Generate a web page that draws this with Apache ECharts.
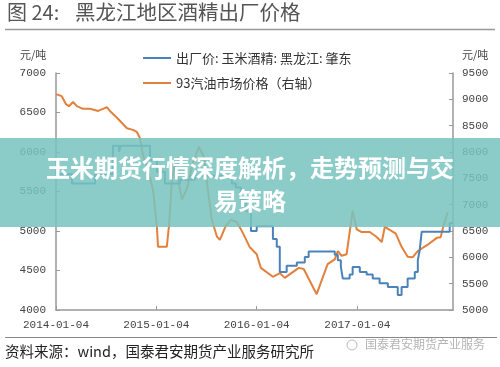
<!DOCTYPE html>
<html><head><meta charset="utf-8">
<script src="https://cdn.jsdelivr.net/npm/echarts@6/dist/echarts.min.js"></script>
<style>html,body{margin:0;padding:0;background:#fff}#c{width:500px;height:367px}</style>
</head><body><div id="c"></div>
<script>
// ---- data ----
const blueName = '出厂价: 玉米酒精: 黑龙江: 肇东';
const orangeName = '93汽油市场价格（右轴）';
const blueDates = ['2014-01-04','2014-03-03','2014-05-26','2014-07-30','2014-08-21','2014-08-28','2014-12-12','2015-01-06','2015-02-04','2015-03-31','2015-05-24','2015-10-06','2015-10-20','2015-11-07','2015-11-25','2015-12-14','2016-01-04','2016-03-03','2016-03-17','2016-03-28','2016-04-22','2016-05-29','2016-06-27','2016-07-11','2016-10-14','2016-10-25','2016-11-05','2016-11-12','2016-12-07','2016-12-18','2017-01-13','2017-02-07','2017-03-01','2017-03-26','2017-04-25','2017-05-31','2017-06-14','2017-07-06','2017-08-01','2017-08-12','2017-08-19','2017-08-26','2017-12-06','2017-12-18'];
const blueValues = [5720,5600,5720,6080,6000,6080,5900,5750,5600,5650,5700,5600,5550,5400,5250,5000,5060,4900,4800,4480,4560,4600,4670,4740,4700,4630,4550,4400,4450,4545,4480,4450,4400,4340,4290,4190,4290,4400,4480,4630,4760,4990,5100,5100];
const orangeDates = ['2014-01-04','2014-01-25','2014-02-09','2014-02-20','2014-03-07','2014-03-21','2014-04-12','2014-05-08','2014-06-06','2014-06-24','2014-07-08','2014-07-19','2014-08-14','2014-09-01','2014-09-19','2014-10-11','2014-10-25','2014-11-05','2014-11-16','2014-12-12','2014-12-23','2015-01-06','2015-01-10','2015-02-11','2015-02-19','2015-03-02','2015-03-12','2015-03-23','2015-04-07','2015-04-25','2015-05-17','2015-06-08','2015-06-26','2015-07-10','2015-07-25','2015-08-12','2015-08-23','2015-09-14','2015-10-02','2015-10-24','2015-11-15','2015-12-10','2016-01-04','2016-01-19','2016-03-03','2016-03-28','2016-04-15','2016-06-05','2016-06-23','2016-08-09','2016-09-18','2016-10-14','2016-10-25','2016-11-08','2016-11-26','2016-12-18','2017-01-02','2017-01-20','2017-02-18','2017-03-12','2017-04-03','2017-04-14','2017-05-02','2017-05-24','2017-06-14','2017-07-06','2017-07-24','2017-08-12','2017-09-17','2017-10-20','2017-11-03','2017-11-14','2017-11-29'];
const orangeValues = [9100,9060,8910,8870,8950,8870,8820,8820,8780,8820,8850,8780,8650,8550,8450,8420,8380,8270,7950,7500,7280,6580,6200,6200,6600,7500,7750,7500,7100,7300,7800,8100,7900,7300,6710,6400,6330,6600,6710,6670,6460,6190,6060,5800,5630,5700,5610,5800,5780,5300,5870,5960,6120,6030,6060,6880,6530,6480,6480,6400,6290,6580,6520,6450,6200,6010,6000,6120,6240,6370,6380,6610,6860];
const xTickLabels = ['2014-01-04','2015-01-04','2016-01-04','2017-01-04'];
const xRange = ['2014-01-04','2017-12-18'];
const leftAxis = {min: 4000, max: 7000, interval: 500};
const rightAxis = {min: 5000, max: 9500, interval: 500};

// ---- helpers ----
function ts(s){ const p = s.split('-').map(Number); return Date.UTC(p[0], p[1]-1, p[2]); }
function pad(n){ return (n<10?'0':'') + n; }
function fmt(v){ const d = new Date(Math.round(v)); return d.getUTCFullYear() + '-' + pad(d.getUTCMonth()+1) + '-' + pad(d.getUTCDate()); }
const blueData = blueDates.map((d,i)=>[ts(d), blueValues[i]]);
const orangeData = orangeDates.map((d,i)=>[ts(d), orangeValues[i]]);
const xTicks = xTickLabels.map(ts);

const chart = echarts.init(document.getElementById('c'), null, {renderer:'canvas'});
const axisFont = 'Liberation Mono';
const cjk = 'Noto Sans CJK SC';
const plain = v => String(v);
chart.setOption({
  animation: false,
  backgroundColor: '#fff',
  grid: {left: 56, right: 47, top: 73, bottom: 57},
  legend: {
    orient: 'vertical', left: 138, top: 46, itemGap: 11, itemWidth: 28, itemHeight: 2, icon: 'rect',
    textStyle: {fontSize: 13, lineHeight: 14, color: '#333', fontFamily: cjk},
    data: [blueName, orangeName]
  },
  xAxis: {
    type: 'value', min: ts(xRange[0]), max: ts(xRange[1]), scale: true,
    axisLine: {lineStyle: {color: '#999', width: 1.5}},
    axisTick: {show: true, inside: true, length: 4, lineStyle: {color: '#999'}, customValues: xTicks},
    axisLabel: {customValues: xTicks, formatter: fmt, margin: 10, color: '#444', fontSize: 11, fontFamily: axisFont, hideOverlap: false},
    splitLine: {show: false}
  },
  yAxis: [
    {type: 'value', position: 'left', min: leftAxis.min, max: leftAxis.max, interval: leftAxis.interval,
     axisLine: {show: true, lineStyle: {color: '#999', width: 1.5}},
     axisTick: {show: true, inside: true, length: 4, lineStyle: {color: '#999'}},
     axisLabel: {margin: 10, color: '#444', fontSize: 11, fontFamily: axisFont, formatter: plain},
     splitLine: {show: false}},
    {type: 'value', position: 'right', min: rightAxis.min, max: rightAxis.max, interval: rightAxis.interval,
     axisLine: {show: true, lineStyle: {color: '#999', width: 1.5}},
     axisTick: {show: true, inside: true, length: 4, lineStyle: {color: '#999'}},
     axisLabel: {margin: 9, color: '#444', fontSize: 11, fontFamily: axisFont, formatter: plain},
     splitLine: {show: false}}
  ],
  series: [
    {name: blueName, type: 'line', step: 'end', yAxisIndex: 0, symbol: 'none', data: blueData,
     lineStyle: {color: '#4a82b9', width: 2}, itemStyle: {color: '#4a82b9'}, z: 3},
    {name: orangeName, type: 'line', yAxisIndex: 1, symbol: 'none', data: orangeData,
     lineStyle: {color: '#e2803c', width: 2}, itemStyle: {color: '#e2803c'}, z: 2}
  ],
  graphic: {elements: [
    {type: 'text', left: 7, top: 2, style: {text: '图 24:', fontSize: 20, fontFamily: cjk, fill: '#555'}},
    {type: 'text', left: 75, top: 2, style: {text: '黑龙江地区酒精出厂价格', fontSize: 20.5, fontFamily: cjk, fill: '#555'}},
    {type: 'line', shape: {x1: 5, y1: 29.5, x2: 495, y2: 29.5}, style: {stroke: '#999', lineWidth: 1.5}},
    {type: 'text', left: 20, top: 49, style: {text: '元/吨', fontSize: 11, fontFamily: cjk, fill: '#444'}},
    {type: 'text', left: 462, top: 49, style: {text: '元/吨', fontSize: 11, fontFamily: cjk, fill: '#444'}},
    {type: 'line', shape: {x1: 5, y1: 337.5, x2: 497, y2: 337.5}, style: {stroke: '#888', lineWidth: 1.2}},
    {type: 'text', left: 5, top: 344, style: {text: '资料来源：wind，国泰君安期货产业服务研究所', fontSize: 14.5, fontFamily: cjk, fill: '#222'}},
    {type: 'circle', shape: {cx: 352, cy: 345, r: 5}, style: {fill: 'none', stroke: '#bbb', lineWidth: 1}},
    {type: 'text', left: 365, top: 338, style: {text: '国泰君安期货产业服务', fontSize: 12, fontFamily: cjk, fill: '#b5b5b5'}},
    {type: 'rect', z: 100, shape: {x: 0, y: 138, width: 500, height: 89}, style: {fill: 'rgba(120,195,190,0.85)'}},
    {type: 'text', z: 101, x: 250, y: 168, style: {text: '玉米期货行情深度解析，走势预测与交', align: 'center', verticalAlign: 'middle', fontSize: 24, fontWeight: 'bold', fontFamily: cjk, fill: '#fff'}},
    {type: 'text', z: 101, x: 250, y: 201, style: {text: '易策略', align: 'center', verticalAlign: 'middle', fontSize: 24, fontWeight: 'bold', fontFamily: cjk, fill: '#fff'}}
  ]}
});
</script></body></html>
